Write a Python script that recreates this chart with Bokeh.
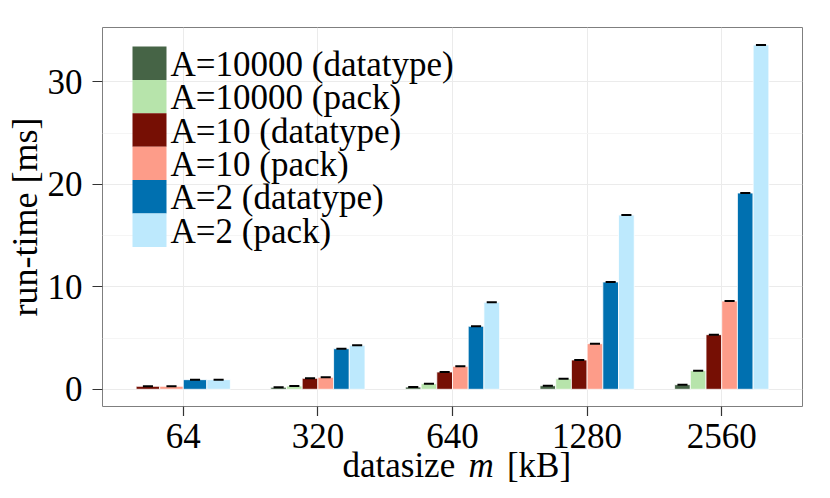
from bokeh.plotting import figure
from bokeh.models import ColumnDataSource, FixedTicker, Range1d, Label, BoxAnnotation
from bokeh.layouts import column
from bokeh.embed import file_html
from bokeh.resources import INLINE
from bokeh.core.properties import value

groups = ["64", "320", "640", "1280", "2560"]
series_names = ["A=10000 (datatype)", "A=10000 (pack)", "A=10 (datatype)",
                "A=10 (pack)", "A=2 (datatype)", "A=2 (pack)"]
colors = ["#466446", "#b7e4ab", "#760f04", "#fd9c89", "#0070b0", "#bde9fd"]

A10000_datatype = [None, 0.20, 0.22, 0.35, 0.45]
A10000_pack = [None, 0.32, 0.55, 1.03, 1.82]
A10_datatype = [0.29, 1.07, 1.69, 2.86, 5.33]
A10_pack = [0.29, 1.17, 2.24, 4.45, 8.61]
A2_datatype = [0.94, 3.96, 6.15, 10.47, 19.15]
A2_pack = [0.94, 4.29, 8.49, 17.0, 33.6]
series_values = [A10000_datatype, A10000_pack, A10_datatype, A10_pack, A2_datatype, A2_pack]

y_ticks = [0, 10, 20, 30]
y_minor = [5, 15, 25]

FONT = "Liberation Serif"
DODGE = 0.7
ERRW = 0.075

W = 814
TOP, FRAME_H, TICK, LEFT, RIGHT = 27, 379, 10, 102, 12
H1 = TOP + FRAME_H + TICK
BASE_SHIFT = 12  # offset so the alphabetic baseline lands where intended

p = figure(width=W, height=H1, output_backend="svg", toolbar_location=None,
           x_range=Range1d(0.4, 5.6), y_range=Range1d(-1.68, 35.3),
           min_border_left=LEFT, min_border_right=RIGHT, min_border_top=TOP,
           min_border_bottom=TICK)
p.background_fill_color = "white"
p.border_fill_color = "white"
p.outline_line_color = "#7f7f7f"
p.outline_line_width = 1

# dodge positions (groups with missing series get wider bars, as ggplot does)
present = [[k for k in range(len(series_values)) if series_values[k][i] is not None]
           for i in range(len(groups))]

for k, (name, vals, col) in enumerate(zip(series_names, series_values, colors)):
    xs, tops, ws = [], [], []
    for i in range(len(groups)):
        if vals[i] is None:
            continue
        n = len(present[i])
        pos = present[i].index(k)
        w = DODGE / n
        xs.append(i + 1 - DODGE / 2 + (pos + 0.5) * w)
        tops.append(vals[i])
        ws.append(w)
    src = ColumnDataSource(dict(x=xs, top=tops, w=ws,
                                x0=[x - ERRW / 2 for x in xs], x1=[x + ERRW / 2 for x in xs]))
    p.vbar(x="x", top="top", bottom=0, width="w", source=src,
           fill_color=col, line_color="white", line_width=0.8)
    p.segment(x0="x0", x1="x1", y0="top", y1="top", source=src, line_color="black", line_width=2)

# legend (keys + labels, screen units inside the frame)
KEY_L, KEY_R, KEY_TOP, KEY_H = 30, 64, 19, 33.4
for k, (name, col) in enumerate(zip(series_names, colors)):
    top = FRAME_H - KEY_TOP - k * KEY_H
    p.add_layout(BoxAnnotation(left=KEY_L, right=KEY_R, top=top, bottom=top - KEY_H,
                               left_units="screen", right_units="screen",
                               top_units="screen", bottom_units="screen",
                               fill_color=col, fill_alpha=1.0, line_color=None))
    p.add_layout(Label(x=KEY_R + 4, y=top - KEY_H / 2 - 13 + BASE_SHIFT,
                       x_units="screen", y_units="screen",
                       text=name, text_baseline="alphabetic", text_align="left",
                       text_font=FONT, text_font_size="35px", text_color="black"))

# axes
p.xaxis.ticker = FixedTicker(ticks=list(range(1, len(groups) + 1)))
p.xaxis.major_label_overrides = {i + 1: "" for i in range(len(groups))}
p.xaxis.major_label_text_font_size = "0px"
p.xaxis.major_label_standoff = 0
p.yaxis.ticker = FixedTicker(ticks=y_ticks, minor_ticks=y_minor)
for ax in (p.xaxis[0], p.yaxis[0]):
    ax.axis_line_color = None
    ax.major_tick_line_color = "#333333"
    ax.major_tick_line_width = 1.2
    ax.major_tick_out = TICK
    ax.major_tick_in = 0
    ax.minor_tick_line_color = None
p.yaxis.major_label_text_font = FONT
p.yaxis.major_label_text_font_size = "35px"
p.yaxis.major_label_text_color = "black"
p.yaxis.major_label_standoff = 10
p.yaxis.axis_label = "run-time [ms]"
p.yaxis.axis_label_text_font = FONT
p.yaxis.axis_label_text_font_size = "36px"
p.yaxis.axis_label_text_font_style = "normal"
p.yaxis.axis_label_text_color = "black"
p.yaxis.axis_label_standoff = 0

p.xgrid.grid_line_color = "#ebebeb"
p.ygrid.grid_line_color = "#ebebeb"
p.ygrid.minor_grid_line_color = "#f5f5f5"

# strip below: x tick labels + x axis title (italic m), sharing the x scale
H2 = 74
t = figure(width=W, height=H2, output_backend="svg", toolbar_location=None,
           x_range=p.x_range, y_range=Range1d(0, H2),
           min_border_left=LEFT, min_border_right=RIGHT, min_border_top=0, min_border_bottom=0)
t.axis.visible = False
t.grid.visible = False
t.outline_line_color = None
t.background_fill_color = "white"
t.border_fill_color = "white"

tick_base = H2 - (447.5 - H1) + BASE_SHIFT
t.text(x=list(range(1, len(groups) + 1)), y=[tick_base] * len(groups), text=groups,
       text_align="center", text_baseline="alphabetic", text_font=value(FONT),
       text_font_size="35px", text_color="black")

title_base = H2 - (476.7 - H1) + BASE_SHIFT
t.text(x=[3.02], y=[title_base], text=["datasize"], text_align="right",
       text_baseline="alphabetic", text_font=value(FONT), text_font_size="35px", text_color="black")
t.text(x=[3.213], y=[title_base], text=["m"], text_align="center",
       text_baseline="alphabetic", text_font=value(FONT), text_font_size="35px",
       text_font_style="italic", text_color="black")
t.text(x=[3.404], y=[title_base], text=["[kB]"], text_align="left",
       text_baseline="alphabetic", text_font=value(FONT), text_font_size="35px", text_color="black")

layout = column(p, t, spacing=0)
open("out.html", "w").write(file_html(layout, INLINE))
